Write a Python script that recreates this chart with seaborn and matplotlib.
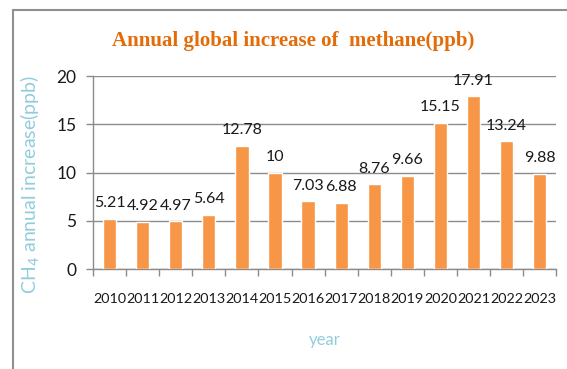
import matplotlib
matplotlib.use("Agg")
import matplotlib.pyplot as plt
from matplotlib.lines import Line2D
import seaborn as sns
import pandas as pd

years = ["2010", "2011", "2012", "2013", "2014", "2015", "2016",
         "2017", "2018", "2019", "2020", "2021", "2022", "2023"]
increase = [5.21, 4.92, 4.97, 5.64, 12.78, 10, 7.03,
            6.88, 8.76, 9.66, 15.15, 17.91, 13.24, 9.88]
value_labels = ["5.21", "4.92", "4.97", "5.64", "12.78", "10", "7.03",
                "6.88", "8.76", "9.66", "15.15", "17.91", "13.24", "9.88"]
y_ticks = [0, 5, 10, 15, 20]

df = pd.DataFrame({"year": years, "increase": increase})

sns.set_theme(style="white")
plt.rcParams["font.family"] = ["Lato", "DejaVu Sans"]

fig = plt.figure(figsize=(5.67, 3.69), dpi=100)
ax = fig.add_axes([0.164, 0.271, 0.817, 0.523])

bar_color = "#F79646"
grid_color = "#8C8C8C"
label_blue = "#92CDDC"
text_color = "#1a1a1a"

sns.barplot(data=df, x="year", y="increase", color=bar_color,
            saturation=1, width=0.4, ax=ax, zorder=3)

for i, (v, lab) in enumerate(zip(increase, value_labels)):
    ax.annotate(lab, (i, v), xytext=(0, 6), textcoords="offset points",
                ha="center", va="bottom", fontsize=11.5, color=text_color)

ax.set_ylim(0, 20)
ax.set_xlim(-0.5, len(years) - 0.5)
ax.set_yticks(y_ticks)
ax.yaxis.grid(True, color=grid_color, linewidth=1, zorder=0)
ax.set_axisbelow(True)

for side in ["top", "right"]:
    ax.spines[side].set_visible(False)
for side in ["left", "bottom"]:
    ax.spines[side].set_color(grid_color)
    ax.spines[side].set_linewidth(1)

ax.tick_params(axis="y", which="major", left=True, length=5, width=1,
               color=grid_color, labelsize=12.5, labelcolor=text_color, pad=7)
ax.tick_params(axis="x", which="major", bottom=False, length=0,
               labelsize=10.4, labelcolor=text_color, pad=17)
ax.set_xticks([x - 0.5 for x in range(len(years) + 1)], minor=True)
ax.tick_params(axis="x", which="minor", bottom=True, length=5, width=1,
               color=grid_color)

ax.set_xlabel("year", color=label_blue, fontsize=12, labelpad=20)
ax.set_ylabel("CH$_4$ annual increase(ppb)", color=label_blue, fontsize=14)
ax.yaxis.set_label_coords(-0.11, 0.44)

fig.suptitle("Annual global increase of  methane(ppb)", x=0.517, y=0.915,
             fontsize=15, fontweight="bold", color="#E36C09",
             family=["Liberation Serif", "DejaVu Serif"])

# outer chart frame: top and left edges only, the rest runs off the canvas
frame_x = 12.5 / 567
frame_y = 1 - 9.5 / 369
fig.add_artist(Line2D([frame_x, 1.0], [frame_y, frame_y],
                      transform=fig.transFigure, color="#8F8F8F",
                      linewidth=1.5))
fig.add_artist(Line2D([frame_x, frame_x], [0.0, frame_y],
                      transform=fig.transFigure, color="#8F8F8F",
                      linewidth=1.5))

fig.savefig("out.png", dpi=100)
